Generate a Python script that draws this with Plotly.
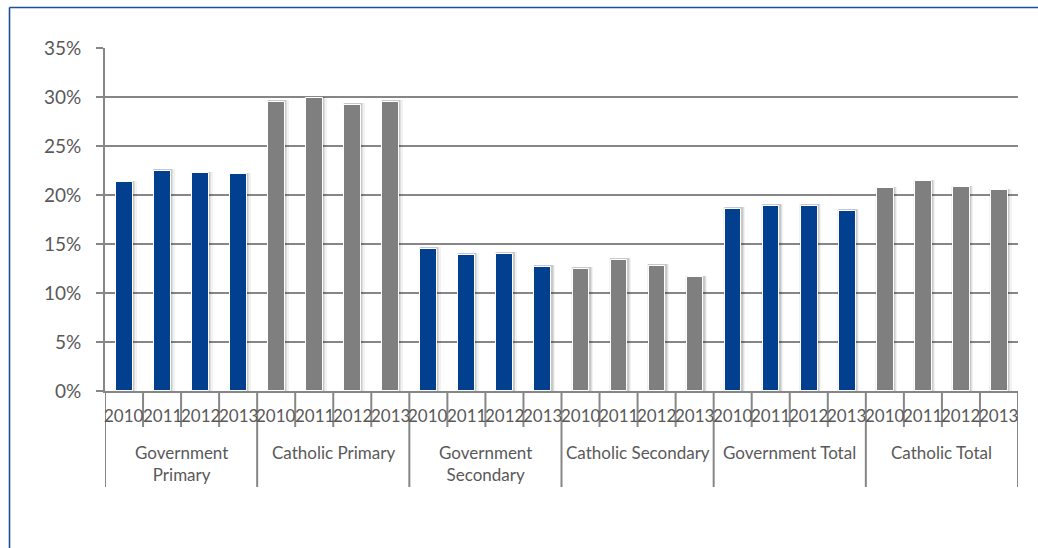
import plotly.graph_objects as go

# Category labels
years = ["2010", "2011", "2012", "2013"]
groups = ["Government<br>Primary", "Catholic Primary", "Government<br>Secondary",
          "Catholic Secondary", "Government Total", "Catholic Total"]

# Percentages per sector, 2010-2013
gov_primary = [21.3, 22.5, 22.2, 22.1]
cath_primary = [29.5, 29.9, 29.2, 29.5]
gov_secondary = [14.5, 13.9, 14.0, 12.7]
cath_secondary = [12.5, 13.4, 12.8, 11.6]
gov_total = [18.6, 18.9, 18.9, 18.4]
cath_total = [20.7, 21.4, 20.8, 20.5]

series = [gov_primary, cath_primary, gov_secondary, cath_secondary, gov_total, cath_total]

BLUE = "#023F8F"
GREY = "#7F7F7F"
AXIS = "#868686"
TEXT = "#595959"
FRAME = "#1F4E9C"
FONT = "Lato, sans-serif"

W, H = 1038, 548
L, R, T, B = 105, 20, 48, 157
PW, PH = W - L - R, H - T - B

def py(pix):
    """pixel row -> paper y"""
    return (H - B - pix) / PH

def px(pix):
    """pixel column -> paper x"""
    return (pix - L) / PW

xs, ys, cols = [], [], []
for g, vals in enumerate(series):
    for k, v in enumerate(vals):
        xs.append(g * 4 + k)
        ys.append(v)
        cols.append(BLUE if g % 2 == 0 else GREY)

fig = go.Figure()

# soft drop shadow behind each bar
for w, off, a in [(0.58, -0.25, 0.05), (0.52, -0.23, 0.08), (0.48, -0.215, 0.10)]:
    fig.add_trace(go.Bar(x=xs, y=[v + 0.15 for v in ys], width=w, offset=off,
                         marker=dict(color=f"rgba(0,0,0,{a})", line=dict(width=0)),
                         hoverinfo="skip", showlegend=False))

fig.add_trace(go.Bar(x=xs, y=ys, width=0.44, offset=-0.21,
                     marker=dict(color=cols, line=dict(color="white", width=1)),
                     showlegend=False,
                     hovertemplate="%{y:.1f}%<extra></extra>"))

annotations = []
shapes = []

# year labels and separators
for i in range(24):
    annotations.append(dict(x=i, y=py(415), xref="x", yref="paper", text=years[i % 4],
                            showarrow=False, xanchor="center", yanchor="middle",
                            font=dict(family=FONT, size=17, color=TEXT)))
for i in range(25):
    bottom = 487 if i % 4 == 0 else 427
    shapes.append(dict(type="line", xref="x", yref="paper", x0=i - 0.5, x1=i - 0.5,
                       y0=0, y1=py(bottom), line=dict(color=AXIS, width=2)))

# sector labels
for g, name in enumerate(groups):
    two = "<br>" in name
    annotations.append(dict(x=g * 4 + 1.5, y=py(463 if two else 452), xref="x", yref="paper",
                            text=name, showarrow=False, xanchor="center", yanchor="middle",
                            font=dict(family=FONT, size=17, color=TEXT)))

# outer frame (top and left edges)
shapes.append(dict(type="line", xref="paper", yref="paper", x0=px(9.5), x1=px(1040),
                   y0=py(7.5), y1=py(7.5), line=dict(color=FRAME, width=1.6)))
shapes.append(dict(type="line", xref="paper", yref="paper", x0=px(9.5), x1=px(9.5),
                   y0=py(7.5), y1=py(550), line=dict(color=FRAME, width=1.6)))

fig.update_layout(
    width=W, height=H,
    margin=dict(l=L, r=R, t=T, b=B),
    paper_bgcolor="white", plot_bgcolor="white",
    barmode="overlay",
    bargap=0,
    annotations=annotations,
    shapes=shapes,
    xaxis=dict(range=[-0.5, 23.5], showticklabels=False, showgrid=False, zeroline=False,
               showline=True, linecolor=AXIS, linewidth=2, ticks=""),
    yaxis=dict(range=[0, 35], dtick=5, ticksuffix="%", showgrid=True, gridcolor=AXIS,
               gridwidth=2, zeroline=False, showline=True, linecolor=AXIS, linewidth=2,
               ticks="outside", ticklen=7, tickwidth=2, tickcolor=AXIS,
               ticklabelstandoff=11,
               tickfont=dict(family=FONT, size=19, color=TEXT)),
)

fig.write_html("out.html")
